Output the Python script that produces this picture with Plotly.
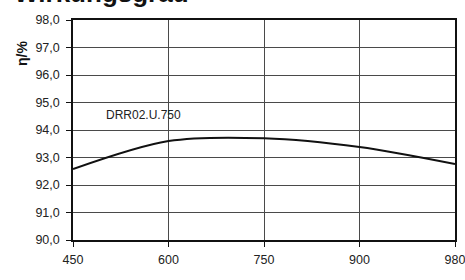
import plotly.graph_objects as go

voltages = ["450", "600", "750", "900", "980"]
efficiency = [92.58, 93.60, 93.70, 93.38, 92.76]
y_ticks = [90, 91, 92, 93, 94, 95, 96, 97, 98]
series_label = "DRR02.U.750"
title_text = "Wirkungsgrad"
x_title = "Ue/V"
y_title = "η/%"

FONT = "Liberation Sans, Arial, sans-serif"

fig = go.Figure()
fig.add_trace(go.Scatter(
    x=voltages, y=efficiency, mode="lines",
    line=dict(color="#111111", width=2, shape="spline", smoothing=0.9),
    showlegend=False, hoverinfo="skip",
))

fig.update_layout(
    width=465, height=280,
    margin=dict(l=73, r=10, t=20, b=40),
    paper_bgcolor="white", plot_bgcolor="white",
    separators=",.",
    font=dict(family=FONT, size=12.5, color="#222222"),
    showlegend=False,
)

fig.update_xaxes(
    type="category", range=[0, 4],
    showgrid=True, gridcolor="#4a4a4a", gridwidth=1,
    showline=True, linecolor="#111111", linewidth=1.5, mirror=True,
    ticks="outside", ticklen=5, tickcolor="#111111", tickwidth=1,
    ticklabelstandoff=2,
    tickfont=dict(family=FONT, size=12.5, color="#222222"),
    zeroline=False, automargin=False,
)
fig.update_yaxes(
    range=[90, 98], tickvals=y_ticks, tickformat=".1f",
    showgrid=True, gridcolor="#4a4a4a", gridwidth=1,
    showline=True, linecolor="#111111", linewidth=1.5, mirror=True,
    ticks="outside", ticklen=5, tickcolor="#111111", tickwidth=1,
    ticklabelstandoff=4,
    tickfont=dict(family=FONT, size=12.5, color="#222222"),
    zeroline=False, automargin=False,
)

fig.add_annotation(
    text=series_label, xref="paper", yref="y",
    x=0.081, y=94.53, xanchor="left", yanchor="middle",
    showarrow=False, font=dict(family=FONT, size=12, color="#222222"),
)
fig.add_annotation(
    text="<b>" + title_text + "</b>", xref="paper", yref="paper",
    x=-0.160, y=1.045, xanchor="left", yanchor="bottom",
    showarrow=False, font=dict(family=FONT, size=26, color="#111111"),
)
fig.add_annotation(
    text="<b>" + x_title + "</b>", xref="paper", yref="paper",
    x=(237 - 73) / 382, y=-0.195, xanchor="center", yanchor="top",
    showarrow=False, font=dict(family=FONT, size=14, color="#111111"),
)
fig.add_annotation(
    text="<b>" + y_title + "</b>", xref="paper", yref="paper",
    x=(22 - 73) / 382, y=(240 - 54) / 220, xanchor="center", yanchor="middle",
    textangle=-90,
    showarrow=False, font=dict(family=FONT, size=14, color="#111111"),
)

fig.write_html("out.html", config={"displayModeBar": False},
               post_script="document.body.style.margin='0';")
